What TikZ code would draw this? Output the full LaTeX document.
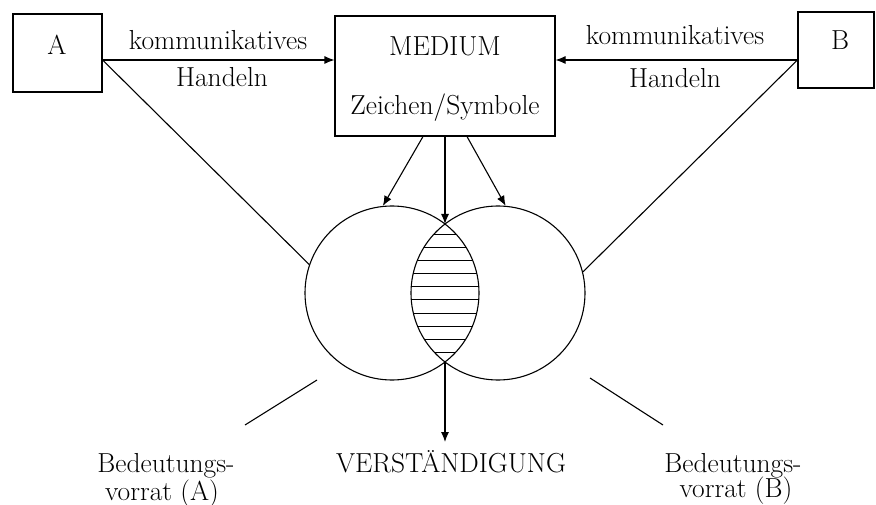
\documentclass[tikz,border=0pt]{standalone}
\usepackage{tikz}
\usetikzlibrary{
  arrows.meta,
  positioning
}
\tikzset{
  kasten/.style={draw, line width=1.1pt, inner sep=0pt},
  kreis/.style={draw, circle, line width=1.1pt, minimum size=174pt, inner sep=0pt},
  pfeil/.style={-{Latex[length=10pt,width=8pt]}, line width=1.1pt},
  linie/.style={line width=1.1pt},
  schraffur/.style={line width=1pt},
  txt/.style={font=\fontsize{27.5}{30}\selectfont, inner sep=0pt, anchor=base},
}

\begin{document}
\begin{tikzpicture}[x=1pt, y=-1pt]
  \useasboundingbox (0,0) rectangle (876,505);

  % Kaesten
  \node[kasten, minimum width=89pt, minimum height=78pt] (A) at (57.5,53) {};
  \node[kasten, minimum width=220pt, minimum height=120pt] (medium) at (445,76) {};
  \node[kasten, minimum width=76pt, minimum height=76pt] (B) at (836,50) {};

  \node[txt] (labelA) at (57,55) {A};
  \node[txt] (labelB) at (840,50) {B};
  \node[txt] (mediumtxt) at (445,56) {MEDIUM};
  \node[txt] (zeichen) at (445,115) {Zeichen/Symbole};

  % Kreise (Bedeutungsvorrat)
  \node[kreis] (lkreis) at (392,293) {};
  \node[kreis] (rkreis) at (498,293) {};
  \coordinate (oben) at (445,224);
  \coordinate (unten) at (445,362);

  % Schnittmenge schraffiert
  \begin{scope}
    \clip (392,293) circle (87pt);
    \clip (498,293) circle (87pt);
    \foreach \y in {235,248,...,352}
      \draw[schraffur] (400,\y) -- (490,\y);
  \end{scope}

  % kommunikatives Handeln
  \draw[pfeil] ([yshift=-7pt]A.east) -- ([yshift=16pt]medium.west);
  \draw[pfeil] ([yshift=-10pt]B.west) -- ([yshift=16pt]medium.east);
  \node[txt] (komm1) at (218,50) {kommunikatives};
  \node[txt] (hand1) at (222,87) {Handeln};
  \node[txt] (komm2) at (675,45) {kommunikatives};
  \node[txt] (hand2) at (675,88) {Handeln};

  % Verbindungen zu den Kreisen
  \draw[linie] ([yshift=-7pt]A.east) -- (lkreis.161);
  \draw[linie] ([yshift=-10pt]B.west) -- (rkreis.14);
  \draw[pfeil] ([xshift=-22pt]medium.south) -- (lkreis.96);
  \draw[pfeil] (medium.south) -- (oben);
  \draw[pfeil] ([xshift=22pt]medium.south) -- (rkreis.85);

  % Verstaendigung
  \draw[pfeil] (unten) -- ++(0,80);
  \node[txt] (verst) at (451,472) {VERSTÄNDIGUNG};

  % Bedeutungsvorrat
  \coordinate (zl1) at (317,380);
  \coordinate (zl2) at (245,425);
  \coordinate (zr1) at (590,378);
  \coordinate (zr2) at (663,425);
  \draw[linie] (zl1) -- (zl2);
  \draw[linie] (zr1) -- (zr2);
  \node[txt] (vorratA1) at (166,472) {Bedeutungs-};
  \node[txt] (vorratA2) at (162,500) {vorrat (A)};
  \node[txt] (vorratB1) at (733,472) {Bedeutungs-};
  \node[txt] (vorratB2) at (736,497) {vorrat (B)};
\end{tikzpicture}
\end{document}
